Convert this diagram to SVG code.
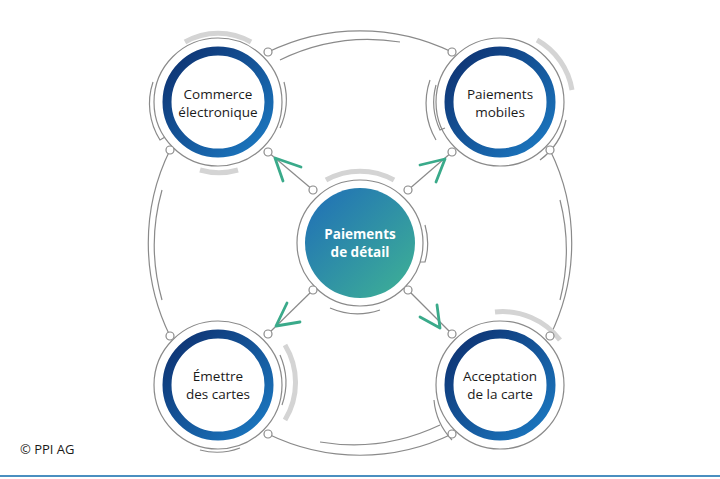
<svg xmlns="http://www.w3.org/2000/svg" width="720" height="479" viewBox="0 0 720 479">
<style>
.thin{fill:none;stroke:#8a8a8a;stroke-width:1.2}
.gr{fill:none;stroke:#d4d4d4;stroke-width:5}
.dot{fill:#fff;stroke:#8a8a8a;stroke-width:1.2}
.ring{fill:#fff;stroke:url(#blue);stroke-width:9}
.lbl{font-family:"Open Sans","Liberation Sans",sans-serif;font-size:13.5px;fill:#1a1a1a;text-anchor:middle}
.arr{fill:none;stroke:#3aaa8a;stroke-width:2.8;stroke-linecap:round;stroke-linejoin:round}
</style>
<defs>
<linearGradient id="blue" x1="0" y1="0" x2="1" y2="1"><stop offset="0" stop-color="#0d2f6e"/><stop offset="1" stop-color="#1c7bc4"/></linearGradient>
<linearGradient id="teal" x1="0" y1="0" x2="1" y2="1"><stop offset="0" stop-color="#1f6db8"/><stop offset="1" stop-color="#3fb394"/></linearGradient>
</defs>
<rect width="720" height="479" fill="#fff"/>
<g id="connectors">
<path class="thin" d="M268 52 A210 210 0 0 1 452 52"/>
<path class="thin" d="M280 60 A202 202 0 0 1 400 42"/>
<path class="thin" d="M170 150 A210 210 0 0 0 170 336"/>
<path class="thin" d="M162 190 A202 202 0 0 0 162 300"/>
<path class="thin" d="M550 150 A210 210 0 0 1 550 336"/>
<path class="thin" d="M560 200 A202 202 0 0 1 560 300"/>
<path class="thin" d="M268 434 A210 210 0 0 0 452 434"/>
<path class="thin" d="M320 442 A202 202 0 0 0 440 425"/>
<line class="thin" x1="313" y1="190" x2="268" y2="152"/>
<line class="thin" x1="408" y1="190" x2="452" y2="152"/>
<line class="thin" x1="313" y1="290" x2="268" y2="334"/>
<line class="thin" x1="408" y1="290" x2="452" y2="334"/>
<polyline class="arr" points="301,167 275,158 283,181"/>
<polyline class="arr" points="420,165 445,159 436,182"/>
<polyline class="arr" points="287,303 276,326 300,322"/>
<polyline class="arr" points="420,317 440,328 437,305"/>
</g>
<g id="n-commerce">
<circle class="thin" cx="218" cy="102" r="64"/>
<path class="gr" d="M185 42 A66 66 0 0 1 251 42"/>
<path class="gr" d="M200 170 A70 70 0 0 0 238 170"/>
<path class="thin" d="M153 82 A68 68 0 0 0 160 140 L165 137"/>
<path class="thin" d="M284 82 A68 68 0 0 1 280 128"/>
<circle class="ring" cx="218" cy="102" r="51"/>
<text class="lbl" x="218" y="99">Commerce</text>
<text class="lbl" x="218" y="117">électronique</text>
<circle class="dot" cx="268" cy="52" r="4"/><circle class="dot" cx="170" cy="150" r="4"/><circle class="dot" cx="268" cy="152" r="4"/>
</g>
<g id="n-mobiles">
<circle class="thin" cx="500" cy="102" r="64"/>
<path class="gr" d="M537 40 A70 70 0 0 1 572 90"/>
<path class="thin" d="M436 85 A66 66 0 0 0 440 130 L445 128"/>
<path class="thin" d="M430 80 A72 72 0 0 0 436 140"/>
<path class="thin" d="M566 120 A68 68 0 0 1 540 160"/>
<circle class="ring" cx="500" cy="102" r="51"/>
<text class="lbl" x="500" y="99">Paiements</text>
<text class="lbl" x="500" y="117">mobiles</text>
<circle class="dot" cx="452" cy="52" r="4"/><circle class="dot" cx="452" cy="152" r="4"/><circle class="dot" cx="550" cy="150" r="4"/>
</g>
<g id="n-emettre">
<circle class="thin" cx="218" cy="385" r="64"/>
<path class="gr" d="M285 345 A72 72 0 0 1 285 420"/>
<path class="thin" d="M280 355 A68 68 0 0 1 282 405"/>
<path class="thin" d="M240 448 A66 66 0 0 1 200 450"/>
<circle class="ring" cx="218" cy="385" r="51"/>
<text class="lbl" x="218" y="381">Émettre</text>
<text class="lbl" x="218" y="399">des cartes</text>
<circle class="dot" cx="170" cy="336" r="4"/><circle class="dot" cx="268" cy="334" r="4"/><circle class="dot" cx="268" cy="434" r="4"/>
</g>
<g id="n-acceptation">
<circle class="thin" cx="500" cy="385" r="64"/>
<path class="gr" d="M495 312 A72 72 0 0 1 560 340"/>
<path class="thin" d="M434 400 A66 66 0 0 0 452 440"/>
<circle class="ring" cx="500" cy="385" r="51"/>
<text class="lbl" x="500" y="381">Acceptation</text>
<text class="lbl" x="500" y="399">de la carte</text>
<circle class="dot" cx="452" cy="334" r="4"/><circle class="dot" cx="452" cy="434" r="4"/><circle class="dot" cx="550" cy="336" r="4"/>
</g>
<g id="n-center">
<circle class="thin" cx="360" cy="243" r="63"/>
<path class="gr" d="M326 180 A70 70 0 0 1 394 180"/>
<path class="thin" d="M425 225 A66 66 0 0 1 425 262 L420 262"/>
<path class="thin" d="M330 308 A70 70 0 0 0 380 310"/>
<circle cx="360" cy="243" r="55" fill="url(#teal)"/>
<text class="lbl" x="360" y="239" style="fill:#fff;font-weight:bold">Paiements</text>
<text class="lbl" x="360" y="257" style="fill:#fff;font-weight:bold">de détail</text>
<circle class="dot" cx="313" cy="190" r="4"/><circle class="dot" cx="408" cy="190" r="4"/><circle class="dot" cx="313" cy="290" r="4"/><circle class="dot" cx="408" cy="290" r="4"/>
</g>
<text x="20" y="454" style="font-family:'Open Sans','Liberation Sans',sans-serif;font-size:13px;fill:#1a1a1a">© PPI AG</text>
<rect x="0" y="475" width="720" height="2" fill="#4a8fc0"/>
</svg>
